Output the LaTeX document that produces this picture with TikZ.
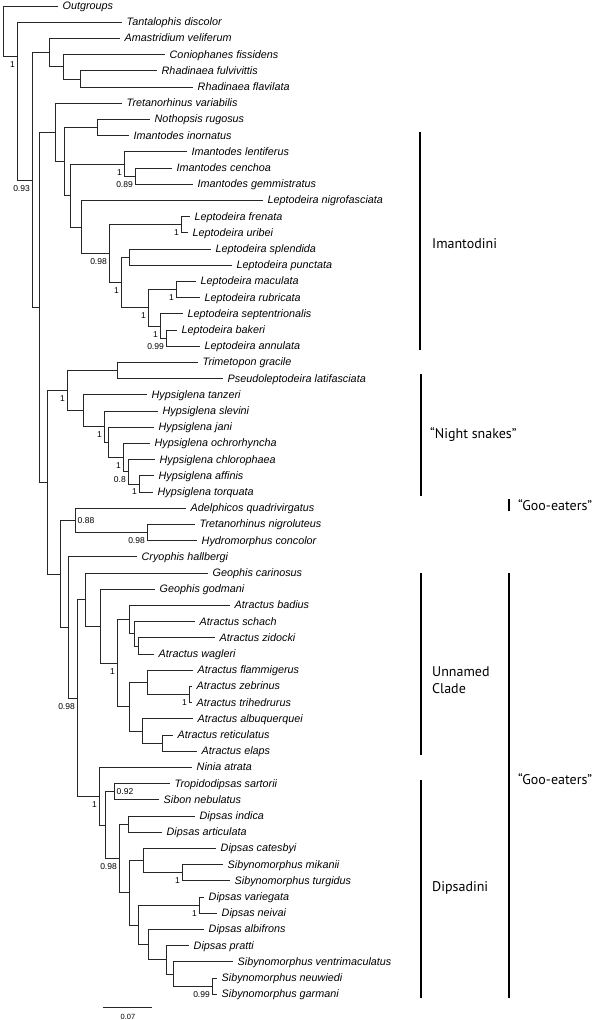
\documentclass[tikz,border=0pt]{standalone}
\usepackage{fontspec}
\setmainfont{Liberation Sans}
\newfontfamily\cladefont{PT Sans}
\begin{document}
\begin{tikzpicture}[x=1pt,y=-1pt,
    branch/.style={line width=0.8pt,black!85},
    taxon/.style={anchor=west,inner xsep=4.5pt,inner ysep=0pt,text height=7.5pt,text depth=0.5pt,
      font=\fontsize{10.8}{12}\selectfont\itshape},
    supp/.style={anchor=north east,inner sep=0pt,xshift=-2pt,yshift=-5pt,font=\fontsize{8.5}{10}\selectfont},
    suppr/.style={anchor=west,inner sep=0pt,xshift=2.5pt,font=\fontsize{8.5}{10}\selectfont},
    cladebar/.style={line width=2.7pt},
    clade/.style={anchor=west,inner sep=0pt,align=left,font=\cladefont\fontsize{14}{17}\selectfont}]
  \useasboundingbox (0,0) rectangle (600,1020);
  \fill[white] (0,0) rectangle (600,1020);
  % internal nodes of the tree
  \coordinate (root) at (3,6);
  \foreach \n/\x/\y in {ingr/17/56, core/32/180, amas/49/52.6, coni/63/66.75, rhad/80/78.9,
      main/39/307.4, imaA/55/132.4, imaB/64/161.5, noth/97/127.5, imaC/70/195.5,
      imnt/124/164, icen/135/176.1, lepA/81/227, lepB/109/253.5, lfre/181/224.7,
      lepC/121/282.4, lspl/129/257.1, lepD/148/307.7, lmac/176/289.5, lepE/160/326, lbak/166/338.1,
      rest/47/482.3, nigA/67/390.6, trim/117/370.5, hypA/83/410.8, hypB/104/426.7,
      hypC/108/442.4, hypD/123/457.6, hypE/128/471.7, haff/139/483.9,
      gooA/60/573.9, adel/75/520.4, tret/147/532.5, gooB/68/627.4, gooC/77/698,
      geoA/85/599.6, geoB/100/626.2, atrA/117/663.2, atrB/129/619.6, atrC/134/633.8,
      azid/138/645.9, atrD/129/706.7, afla/147/682.4, azeb/189/694.5, aalb/142/731, aret/162/743.1,
      dipA/99/796.3, dipB/105/825.1, trop/114/791.7, dipC/119/858.5, dind/128/824.1,
      dipD/129/892.8, dcat/143/860.6, smik/182/872.7, dipE/138/924.9, dvar/199/905.1,
      dipF/148/944.6, dipG/166/959.8, dipH/173/974, sneu/212/986.1}
    \coordinate (\n) at (\x,\y);
  \foreach \c/\p in {ingr/root, core/ingr, amas/core, coni/amas, rhad/coni,
      main/core, imaA/main, imaB/imaA, noth/imaB, imaC/imaB, imnt/imaC, icen/imnt,
      lepA/imaC, lepB/lepA, lfre/lepB, lepC/lepB, lspl/lepC, lepD/lepC, lmac/lepD,
      lepE/lepD, lbak/lepE, rest/main, nigA/rest, trim/nigA, hypA/nigA, hypB/hypA,
      hypC/hypB, hypD/hypC, hypE/hypD, haff/hypE, gooA/rest, adel/gooA, tret/adel,
      gooB/gooA, gooC/gooB, geoA/gooC, geoB/geoA, atrA/geoB, atrB/atrA, atrC/atrB,
      azid/atrC, atrD/atrA, afla/atrD, azeb/afla, aalb/atrD, aret/aalb,
      dipA/gooC, dipB/dipA, trop/dipB, dipC/dipB, dind/dipC, dipD/dipC, dcat/dipD,
      smik/dcat, dipE/dipD, dvar/dipE, dipF/dipE, dipG/dipF, dipH/dipG, sneu/dipH}
    \draw[branch] (\p) |- (\c);
  % tips
  \foreach \n/\p/\x/\i/\t in {out/root/58/1/Outgroups,
      tan/ingr/122/2/Tantalophis discolor,
      ama/amas/120/3/Amastridium veliferum,
      con/coni/165/4/Coniophanes fissidens,
      rfu/rhad/157/5/Rhadinaea fulvivittis,
      rfl/rhad/193/6/Rhadinaea flavilata,
      tva/imaA/122/7/Tretanorhinus variabilis,
      nru/noth/150/8/Nothopsis rugosus,
      iin/noth/129/9/Imantodes inornatus,
      ile/imnt/187/10/Imantodes lentiferus,
      ice/icen/172/11/Imantodes cenchoa,
      ige/icen/193/12/Imantodes gemmistratus,
      lni/lepA/263/13/Leptodeira nigrofasciata,
      lfr/lfre/190/14/Leptodeira frenata,
      lur/lfre/188/15/Leptodeira uribei,
      lsp/lspl/211/16/Leptodeira splendida,
      lpu/lspl/232/17/Leptodeira punctata,
      lma/lmac/196/18/Leptodeira maculata,
      lru/lmac/200/19/Leptodeira rubricata,
      lse/lepE/183/20/Leptodeira septentrionalis,
      lba/lbak/177/21/Leptodeira bakeri,
      lan/lbak/200/22/Leptodeira annulata,
      tgr/trim/198/23/Trimetopon gracile,
      pla/trim/223/24/Pseudoleptodeira latifasciata,
      hta/hypA/147/25/Hypsiglena tanzeri,
      hsl/hypB/158/26/Hypsiglena slevini,
      hja/hypC/154/27/Hypsiglena jani,
      hoc/hypD/150/28/Hypsiglena ochrorhyncha,
      hch/hypE/155/29/Hypsiglena chlorophaea,
      haf/haff/154/30/Hypsiglena affinis,
      hto/haff/153/31/Hypsiglena torquata,
      aqu/adel/186/32/Adelphicos quadrivirgatus,
      tni/tret/195/33/Tretanorhinus nigroluteus,
      hco/tret/197/34/Hydromorphus concolor,
      cha/gooB/137/35/Cryophis hallbergi,
      gca/geoA/208/36/Geophis carinosus,
      ggo/geoB/155/37/Geophis godmani,
      aba/atrB/230/38/Atractus badius,
      asc/atrC/195/39/Atractus schach,
      azi/azid/215/40/Atractus zidocki,
      awa/azid/154/41/Atractus wagleri,
      afl/afla/193/42/Atractus flammigerus,
      aze/azeb/192/43/Atractus zebrinus,
      atr/azeb/192/44/Atractus trihedrurus,
      aal/aalb/193/45/Atractus albuquerquei,
      are/aret/173/46/Atractus reticulatus,
      ael/aret/197/47/Atractus elaps,
      nat/dipA/192/48/Ninia atrata,
      tsa/trop/170/49/Tropidodipsas sartorii,
      sne/trop/159/50/Sibon nebulatus,
      din/dind/195/51/Dipsas indica,
      dar/dind/162/52/Dipsas articulata,
      dca/dcat/216/53/Dipsas catesbyi,
      smi/smik/223/54/Sibynomorphus mikanii,
      stu/smik/230/55/Sibynomorphus turgidus,
      dva/dvar/204/56/Dipsas variegata,
      dne/dvar/217/57/Dipsas neivai,
      dal/dipF/204/58/Dipsas albifrons,
      dpr/dipG/189/59/Dipsas pratti,
      sve/dipH/233/60/Sibynomorphus ventrimaculatus,
      snw/sneu/217/61/Sibynomorphus neuwiedi,
      sga/sneu/217/62/Sibynomorphus garmani}{
    \node[taxon] (\n) at (\x,{6+16.2*(\i-1)}) {\t};
    \draw[branch] (\p) |- (\n.west);
  }
  % support values
  \foreach \n/\v in {ingr/1, core/0.93, imnt/1, icen/0.89, lepB/0.98, lfre/1, lepC/1,
      lmac/1, lepD/1, lepE/1, lbak/0.99, nigA/1, hypB/1, hypD/1, hypE/0.8, haff/1,
      tret/0.98, gooC/0.98, atrA/1, azeb/1, dipA/1, dipC/0.98, smik/1, dvar/1, sneu/0.99}
    \node[supp] (s\n) at (\n) {\v};
  \node[suppr] (sadel) at (adel) {0.88};
  \node[suppr] (strop) at (trop) {0.92};
  % scale bar
  \coordinate (sbL) at (103,1007);
  \coordinate (sbR) at (152,1007);
  \draw[branch] (sbL) -- (sbR);
  \node[font=\fontsize{7.5}{9}\selectfont,inner sep=0pt] (sbT) at (128,1017) {0.07};
  % clade bars
  \foreach \n/\x/\ya/\yb in {ima/420/132/350, ngt/421/374/496, goo/509/499/511,
      unn/421/573/755, dps/421/780/998, gooall/509/573/998}{
    \coordinate (\n-t) at (\x,\ya);
    \coordinate (\n-b) at (\x,\yb);
    \draw[cladebar] (\n-t) -- (\n-b);
  }
  \node[clade] (imaL) at (432,244) {Imantodini};
  \node[clade] (ngtL) at (430,435) {“Night snakes”};
  \node[clade] (gooL) at (518,505) {“Goo-eaters”};
  \node[clade] (unnL) at (432,680) {Unnamed\\Clade};
  \node[clade] (gooallL) at (518,779) {“Goo-eaters”};
  \node[clade] (dpsL) at (432,888) {Dipsadini};
\end{tikzpicture}
\end{document}
